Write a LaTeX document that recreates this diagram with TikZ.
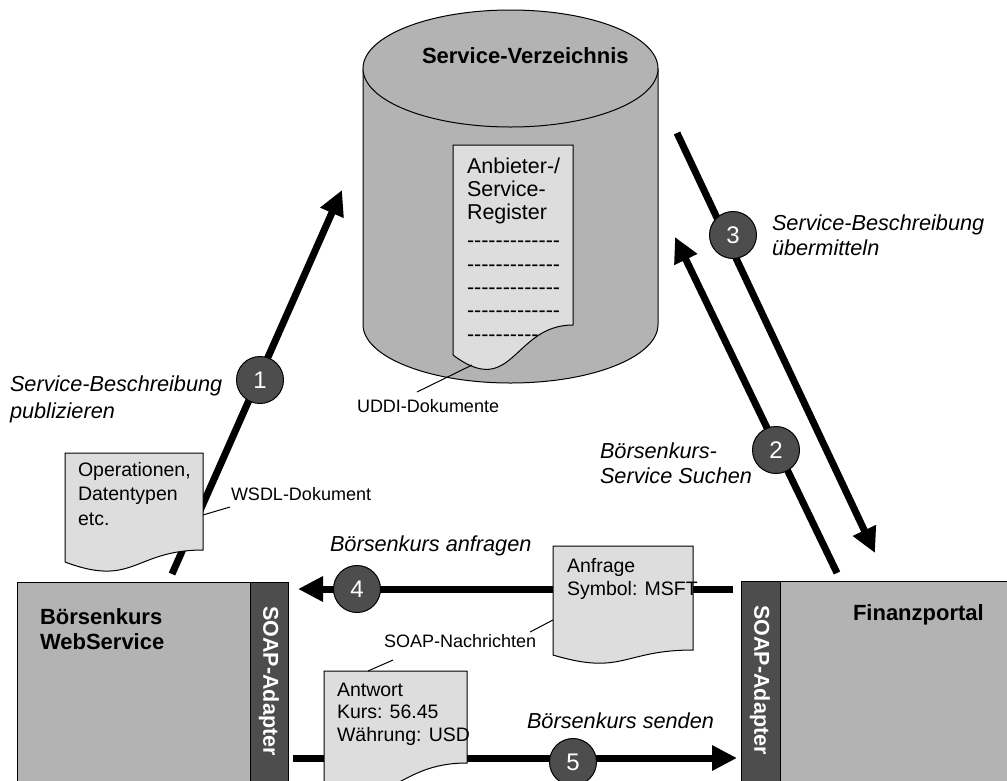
\documentclass[tikz,border=0pt]{standalone}
\usepackage{fontspec}
\setmainfont{Liberation Sans}
\usetikzlibrary{arrows.meta}
\definecolor{unitgray}{HTML}{B3B3B3}
\definecolor{papergray}{HTML}{DDDDDD}
\definecolor{adaptergray}{HTML}{4D4D4D}

% left-aligned block of lines whose anchor is the first baseline
\newcommand\lines[2][23.3pt]{\vtop{\baselineskip=#1\relax\halign{##\hfil\cr#2\crcr}}}
% a row of plain hyphens (kerns keep "--" from turning into dashes)
\newcommand\hyphenrow[1]{\foreach \k in {1,...,#1}{-\kern0pt}}
% document sheet with a wavy lower edge:
% name, left x, top y, width, right height, left height, wave depth
\newcommand\paper[7]{%
  \coordinate (#1) at (#2,#3);
  \draw[sheet] (#2,#3) -- ++(#4,0) -- ++(0,#5)
    .. controls (#2+0.5*#4,#3+#5) and (#2+0.5*#4,#3+#7) .. (#2,#3+#6) -- cycle;}

\begin{document}
\begin{tikzpicture}[x=1pt,y=-1pt,
  every node/.style={inner sep=0pt,outer sep=0pt},
  regular/.style={font=\fontsize{21.5}{23.3}\selectfont,anchor=base west},
  doctext/.style={font=\fontsize{19.5}{23}\selectfont,anchor=base west},
  callout/.style={font=\fontsize{18}{21}\selectfont,anchor=base west},
  slanted/.style={font=\fontsize{21.7}{25}\selectfont\itshape,anchor=base west},
  heading/.style={font=\fontsize{22}{25}\selectfont\bfseries,anchor=base west},
  sheet/.style={draw=black,line width=1pt,fill=papergray},
  unit/.style={draw=black,line width=1pt,fill=unitgray},
  adapter/.style={draw=black,line width=1pt,fill=adaptergray},
  adaptertext/.style={font=\fontsize{21.5}{24}\selectfont\bfseries,text=white,rotate=-90},
  flow/.style={line width=7pt,-{Triangle[length=25pt,width=24pt]}},
  leader/.style={line width=1pt},
  badge/.style={circle,draw=black,line width=1pt,fill=adaptergray,minimum size=47pt,
    text=white,font=\fontsize{24}{24}\selectfont},
]
\useasboundingbox (0,0) rectangle (1007,780);
\fill[white] (0,0) rectangle (1007,780);
\clip (0,0) rectangle (1007,780);

% ---- service directory (cylinder) ----
\fill[unitgray] (363,68.5) rectangle (658,324.5);
\fill[unitgray] (510.5,324.5) ellipse [x radius=147.5,y radius=58.5];
\draw[line width=1pt] (363,68.5) -- (363,324.5)
  arc[start angle=180,end angle=0,x radius=147.5,y radius=58.5] -- (658,68.5);
\draw[line width=1pt,fill=unitgray] (510.5,68.5) ellipse [x radius=147.5,y radius=58.5];
\node[heading] (dir) at (422,63) {Service-Verzeichnis};

% registry sheet inside the directory
\paper{uddi}{453}{145}{120}{180}{210}{255}
\node[regular] (reg) at (467,173) {\lines{Anbieter-/\cr Service-\cr Register\cr
  \noalign{\vskip5pt}
  \hyphenrow{13}\cr \hyphenrow{13}\cr \hyphenrow{13}\cr \hyphenrow{13}\cr \hyphenrow{10}}};
\coordinate (uddi-pin) at (472,365);
\coordinate (uddi-lbl) at (417,392);
\draw[leader] (uddi-pin) -- (uddi-lbl);
\node[callout] (uddiname) at (357,412) {UDDI-Dokumente};

% ---- provider and consumer ----
\draw[unit] (17,582) rectangle (250,790);
\draw[adapter] (250,582) rectangle (288,790);
\node[heading] (ws) at (40,624) {\lines[25pt]{Börsenkurs\cr WebService}};
\node[adaptertext] (soapl) at (269,681) {SOAP-Adapter};

\draw[adapter] (741,581) rectangle (780,790);
\draw[unit] (780,581) rectangle (1012,790);
\node[heading] (fp) at (853,620) {Finanzportal};
\node[adaptertext] (soapr) at (760,680) {SOAP-Adapter};

% ---- flows ----
\coordinate (a1s) at (172,574); \coordinate (a1e) at (342,190);
\coordinate (a2s) at (837,573); \coordinate (a2e) at (675,237);
\coordinate (a3s) at (677,133); \coordinate (a3e) at (875,553);
\coordinate (a4s) at (733,589); \coordinate (a4e) at (298,589);
\coordinate (a5s) at (293,758); \coordinate (a5e) at (737,758);
\draw[flow] (a1s) -- (a1e);
\draw[flow] (a2s) -- (a2e);
\draw[flow] (a3s) -- (a3e);
\draw[flow] (a4s) -- (a4e);
\draw[flow] (a5s) -- (a5e);

\node[badge] (n1) at (260,380) {1};
\node[badge] (n2) at (776,450) {2};
\node[badge] (n3) at (733,235) {3};
\node[badge] (n4) at (357,589) {4};
\node[badge] (n5) at (573,762) {5};

\node[slanted] (t1) at (10,391) {\lines[27pt]{Service-Beschreibung\cr publizieren}};
\node[slanted] (t2) at (600,458) {\lines[25pt]{Börsenkurs-\cr Service Suchen}};
\node[slanted] (t3) at (772,230) {\lines[25pt]{Service-Beschreibung\cr übermitteln}};
\node[slanted] (t4) at (330,551) {Börsenkurs anfragen};
\node[slanted] (t5) at (527,728) {Börsenkurs senden};

% ---- documents on the flows ----
\paper{wsdl}{65}{453}{138}{97}{109}{135}
\node[doctext] (wsdltext) at (78,476) {\lines[24.5pt]{Operationen,\cr Datentypen\cr etc.}};
\coordinate (wsdl-pin) at (203,515);
\coordinate (wsdl-lbl) at (230,507);
\draw[leader] (wsdl-pin) -- (wsdl-lbl);
\node[callout] (wsdlname) at (231,500) {WSDL-Dokument};

\paper{req}{553}{546}{140}{104}{109}{130}
\node[doctext] (reqtext) at (567,572) {\lines[23pt]{Anfrage\cr Symbol: MSFT}};

\paper{resp}{324}{671}{143}{92}{115}{140}
\node[doctext] (resptext) at (337,696) {\lines[22.5pt]{Antwort\cr Kurs: 56.45\cr Währung: USD}};

\node[callout] (soapmsg) at (384,647) {SOAP-Nachrichten};
\coordinate (req-pin) at (553,620);
\coordinate (msg-r) at (530,632);
\coordinate (resp-pin) at (368,671);
\coordinate (msg-l) at (393,660);
\draw[leader] (msg-r) -- (req-pin);
\draw[leader] (msg-l) -- (resp-pin);
\end{tikzpicture}
\end{document}
